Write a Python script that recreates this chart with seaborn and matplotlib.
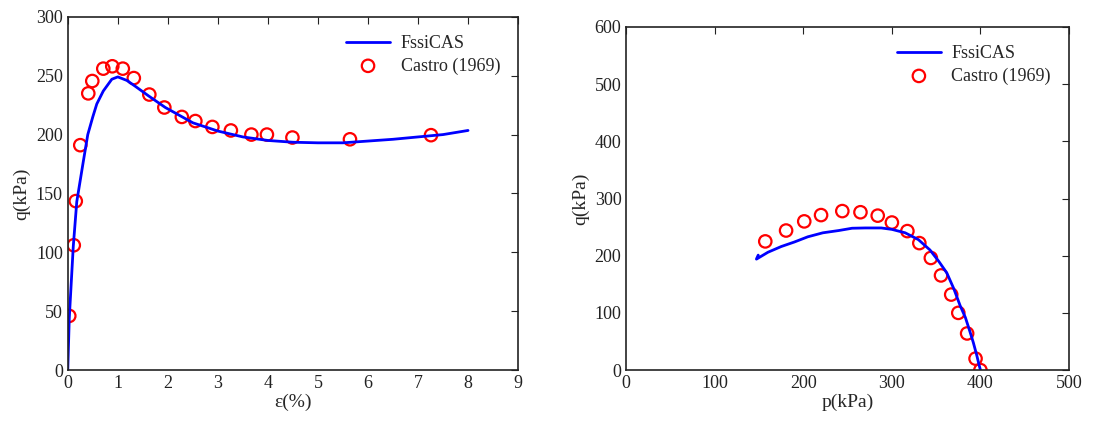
import matplotlib
matplotlib.use("Agg")
import matplotlib.pyplot as plt
import seaborn as sns

# left panel: deviator stress vs axial strain
eps_sim = [0, 0.03, 0.11, 0.18, 0.31, 0.40, 0.50, 0.58, 0.71, 0.88, 1.0, 1.18, 1.35,
           1.61, 1.95, 2.5, 3.0, 3.5, 4.0, 4.5, 5.0, 5.5, 6.0, 6.5, 7.0, 7.5, 8.0]
q_sim = [0, 44, 105, 143, 177, 200, 215, 226, 237, 247, 249, 246, 241,
         233, 223, 210, 203, 198, 195, 193.5, 193, 193, 194.5, 196, 198, 200, 203.5]

eps_exp = [0.03, 0.12, 0.16, 0.25, 0.41, 0.49, 0.71, 0.89, 1.10, 1.32, 1.63, 1.93,
           2.28, 2.55, 2.89, 3.26, 3.67, 3.98, 4.49, 5.64, 7.26]
q_exp = [46, 106, 143.5, 191, 235, 245.5, 256, 258, 256, 248, 234, 223,
         215, 211.5, 206.5, 203.5, 200, 200, 197.5, 196, 199.5]

# right panel: stress path
p_sim = [400, 398, 396, 392, 388, 383, 377, 370, 362, 353, 343, 330, 315, 300,
         288, 270, 255, 240, 222, 205, 190, 175, 160, 147, 149]
qp_sim = [0, 12, 25, 48, 68, 92, 113, 142, 170, 190, 210, 228, 240, 246,
          248.5, 248.5, 248, 244, 240, 233, 224, 216, 206, 194, 201]

p_exp = [157, 180.5, 201, 220, 244, 264.5, 284, 300, 317.5, 331, 344, 355.5,
         367, 375, 385, 394.5, 400]
qp_exp = [225, 244, 260, 271, 278, 276, 270, 258, 243, 222, 196, 165.5,
          132, 100, 64, 20, 0]

sns.set_style("white")
plt.rcParams["font.family"] = ["Liberation Serif", "DejaVu Serif"]

fig = plt.figure(figsize=(10.93, 4.21), dpi=100)
ax1 = fig.add_axes([0.062, 0.121, 0.412, 0.839])
ax2 = fig.add_axes([0.573, 0.121, 0.405, 0.815])

line_kw = dict(color="#0000ff", linewidth=2, sort=False, estimator=None)
pt_kw = dict(marker="o", s=80, facecolor="none", edgecolor="#ff0000", linewidth=1.6)

sns.lineplot(x=eps_sim, y=q_sim, ax=ax1, label="FssiCAS", **line_kw)
sns.scatterplot(x=eps_exp, y=q_exp, ax=ax1, label="Castro (1969)", **pt_kw)
ax1.set_xlim(0, 9)
ax1.set_ylim(0, 300)
ax1.set_xticks(range(0, 10))
ax1.set_yticks(range(0, 301, 50))
ax1.set_xlabel("ε(%)", fontsize=14, labelpad=1)
ax1.set_ylabel("q(kPa)", fontsize=14, labelpad=4)

sns.lineplot(x=p_sim, y=qp_sim, ax=ax2, label="FssiCAS", **line_kw)
sns.scatterplot(x=p_exp, y=qp_exp, ax=ax2, label="Castro (1969)", **pt_kw)
ax2.set_xlim(0, 500)
ax2.set_ylim(0, 600)
ax2.set_xticks(range(0, 501, 100))
ax2.set_yticks(range(0, 601, 100))
ax2.set_xlabel("p(kPa)", fontsize=14, labelpad=1)
ax2.set_ylabel("q(kPa)", fontsize=14, labelpad=4)

for ax in (ax1, ax2):
    ax.tick_params(direction="in", top=True, right=True, length=5, width=0.8,
                   labelsize=13, colors="#222222")
    for sp in ax.spines.values():
        sp.set_color("#222222")
        sp.set_linewidth(1.2)
    ax.legend(loc="upper right", frameon=False, fontsize=13, handlelength=2.4,
              handletextpad=0.6, borderaxespad=0.6, labelspacing=0.3)

fig.savefig("out.png", dpi=100)
